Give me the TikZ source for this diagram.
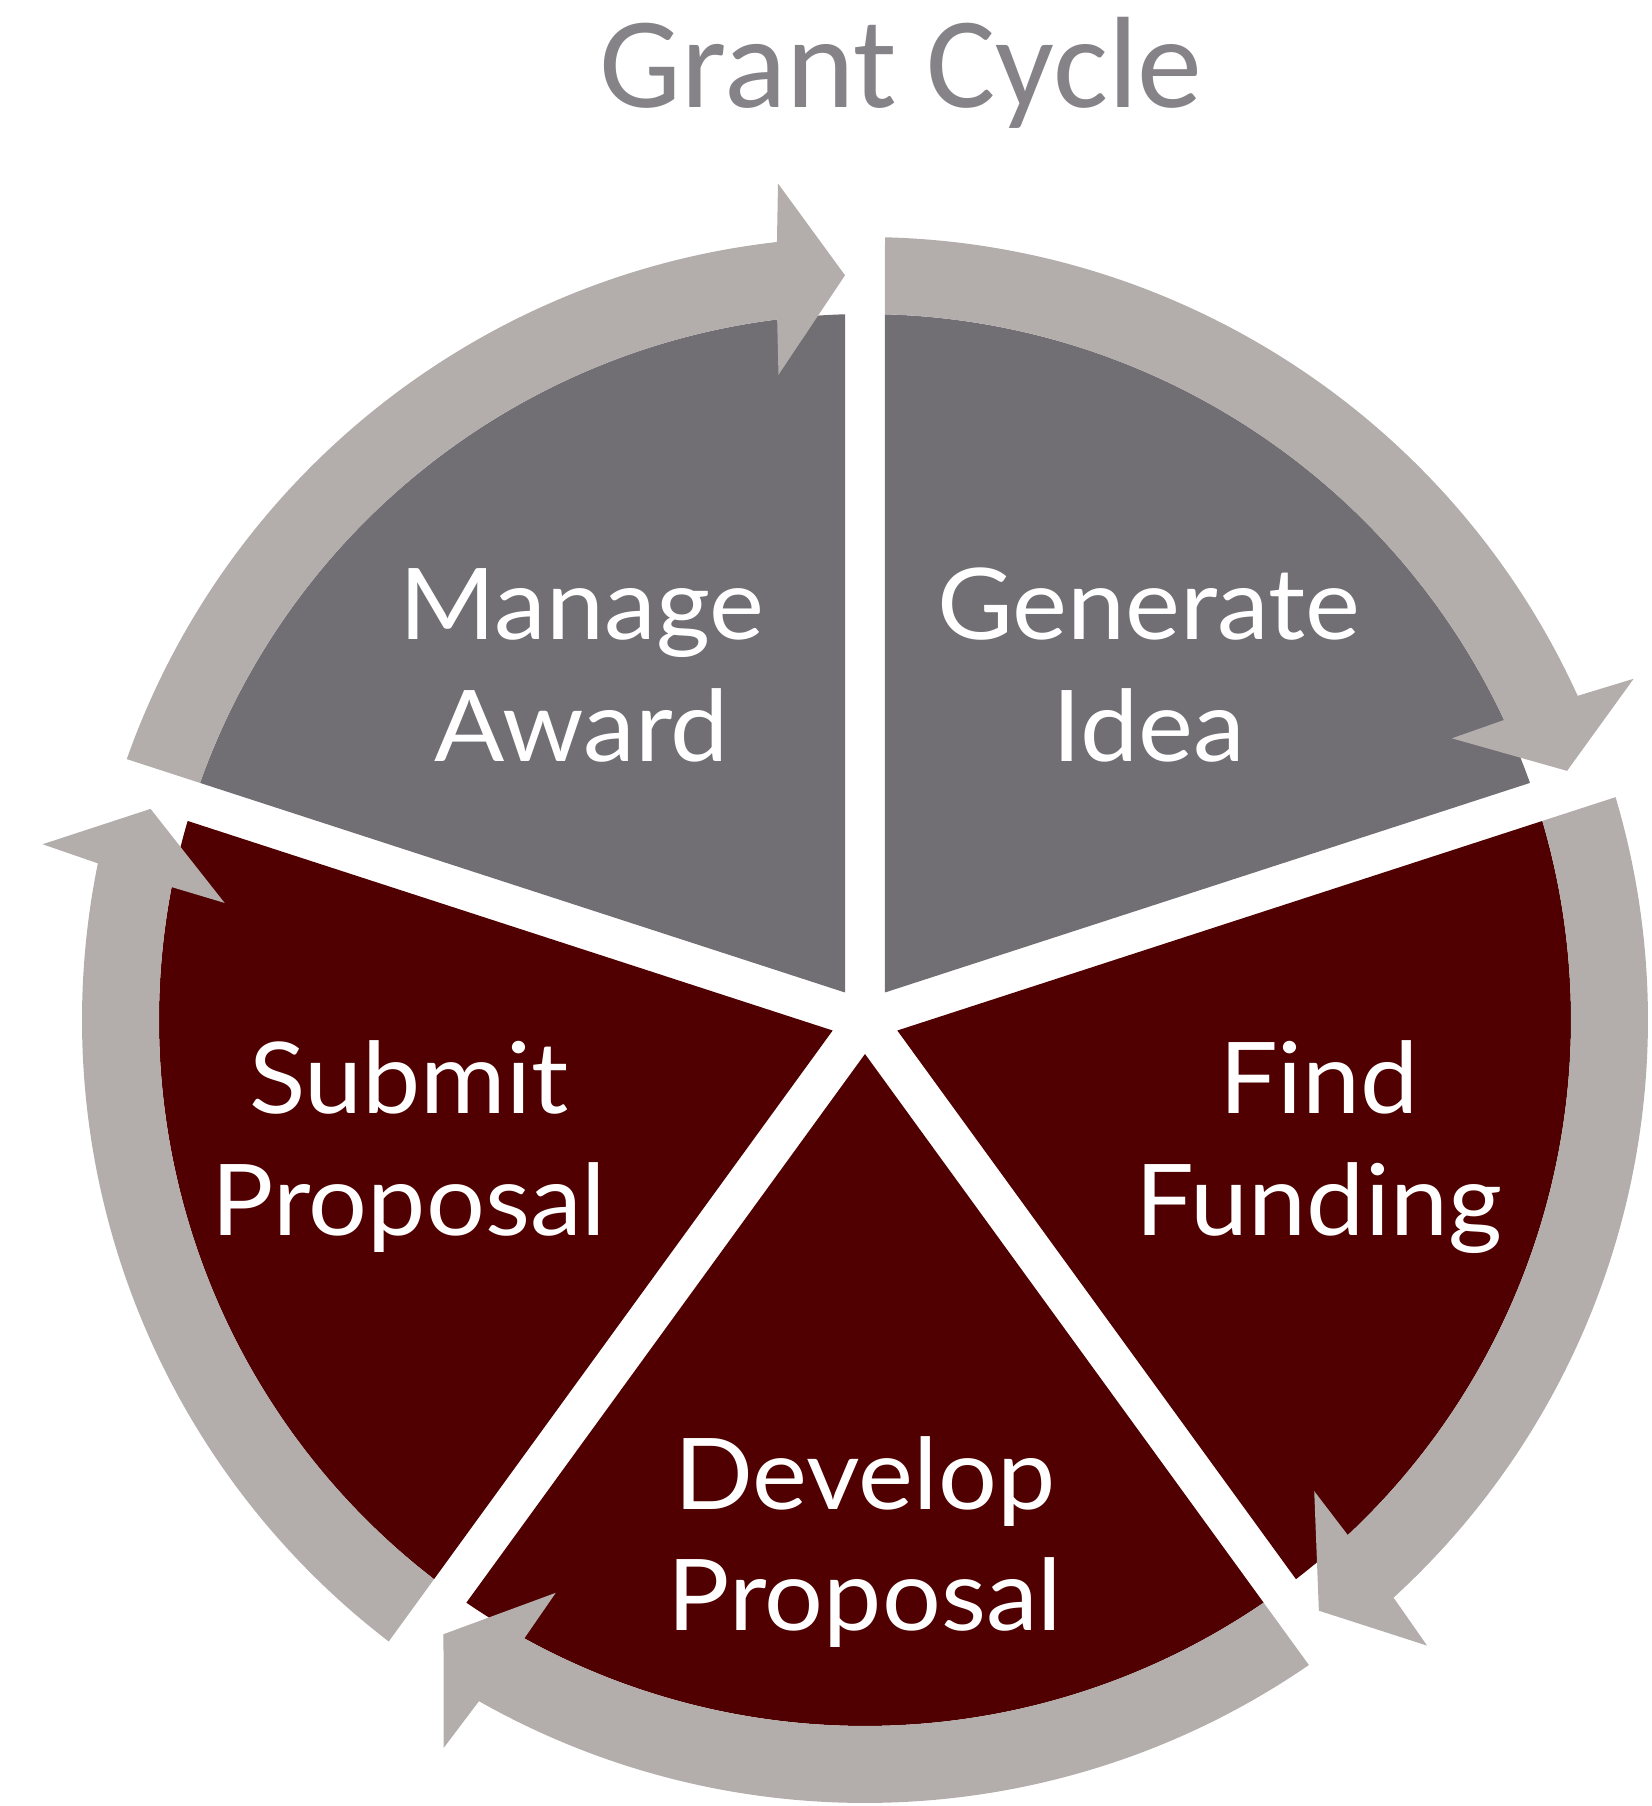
\documentclass[tikz,border=0pt]{standalone}
\usepackage{fontspec}
\newfontfamily\bodyfont[FakeStretch=1.05]{Lato}
\newfontfamily\titlefont{Carlito}
\definecolor{wgray}{RGB}{113,110,116}
\definecolor{wmaroon}{RGB}{80,0,0}
\definecolor{band}{RGB}{179,173,172}
\definecolor{ttl}{RGB}{133,131,136}
\tikzset{
  lbl/.style={text=white, inner sep=0pt, anchor=base, font=\bodyfont\fontsize{99}{110}\selectfont},
  ttlstyle/.style={text=ttl, inner sep=0pt, anchor=base, font=\titlefont\fontsize{130}{140}\selectfont},
}
\begin{document}
\begin{tikzpicture}[x=1pt,y=1pt]
\useasboundingbox (-865,-786) rectangle (786,1020);
% wedges
\foreach \ga/\gb/\col in {162/90/wgray, 90/18/wgray, 18/-54/wmaroon, -54/-126/wmaroon, -126/-198/wmaroon}{
  \pgfmathsetmacro\bis{\ga-36}
  \pgfmathsetmacro\sa{\ga-1.623}
  \pgfmathsetmacro\ea{\gb+1.623}
  \fill[\col] (\bis:34) -- (\sa:706) arc[start angle=\sa, end angle=\ea, radius=706] -- cycle;
}
% arrows
\foreach \ga/\gb in {162/90, 90/18, 18/-54, -54/-126, -126/-198}{
  \pgfmathsetmacro\so{\ga-1.464}
  \pgfmathsetmacro\si{\ga-1.623}
  \pgfmathsetmacro\tp{\gb+1.538}
  \pgfmathsetmacro\eo{\tp+4.92}
  \pgfmathsetmacro\ei{\tp+5.61}
  \pgfmathsetmacro\co{\tp+4.4}
  \pgfmathsetmacro\ci{\tp+6.1}
  \fill[band] (\so:783) arc[start angle=\so, end angle=\eo, radius=783]
     -- (\co:841) -- (\tp:745) -- (\ci:651) -- (\ei:706)
     arc[start angle=\ei, end angle=\si, radius=706] -- cycle;
}
% labels
\node[ttlstyle] (title) at (36,912) {Grant Cycle};
\node[lbl] (manageA) at (-283,380) {Manage};
\node[lbl] (manageB) at (-283,258) {Award};
\node[lbl] (genA) at (284,380) {Generate};
\node[lbl] (genB) at (284,258) {Idea};
\node[lbl] (findA) at (454,-94) {Find};
\node[lbl] (findB) at (454,-215) {Funding};
\node[lbl] (subA) at (-456,-94) {Submit};
\node[lbl] (subB) at (-456,-215) {Proposal};
\node[lbl] (devA) at (0,-489) {Develop};
\node[lbl] (devB) at (0,-610) {Proposal};
\end{tikzpicture}
\end{document}
